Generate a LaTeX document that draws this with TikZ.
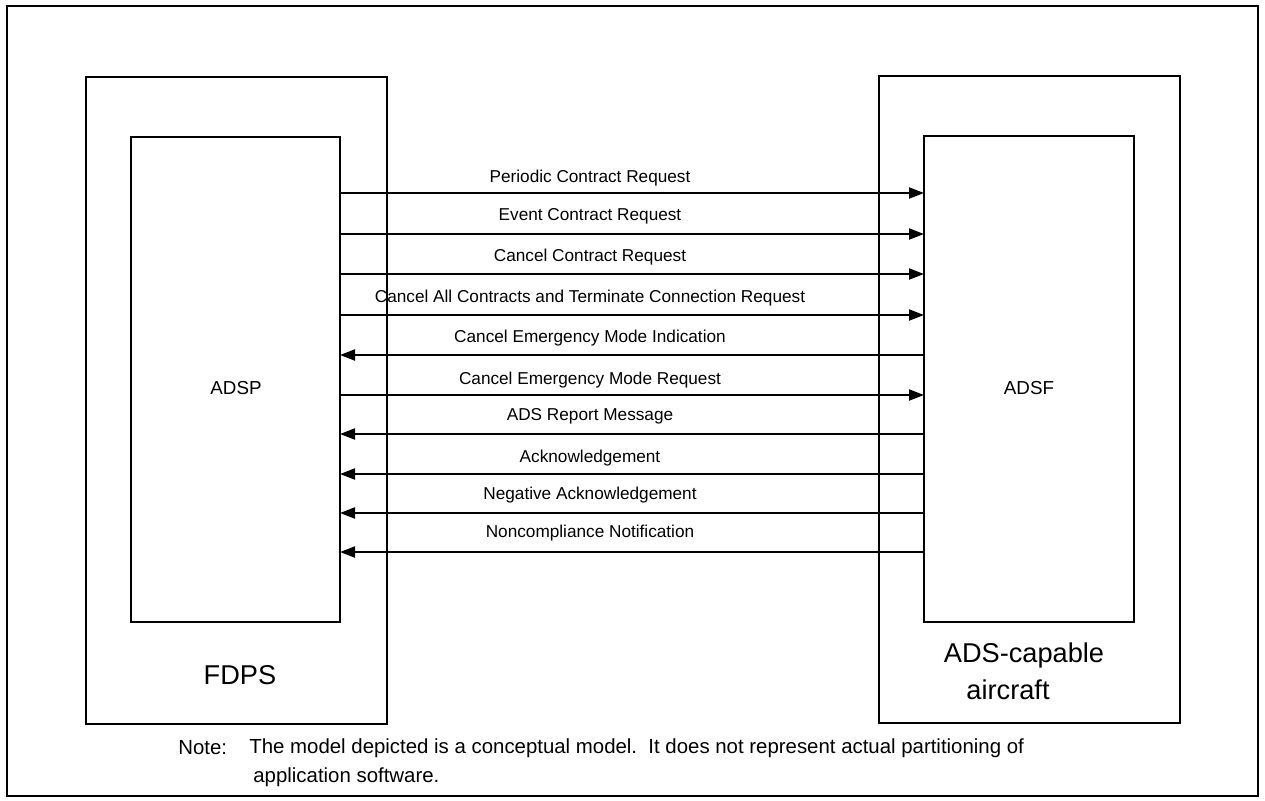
\documentclass[tikz,border=0pt]{standalone}
\usepackage{fontspec}
\setmainfont{Liberation Sans}
\usetikzlibrary{arrows.meta}
\begin{document}
\begin{tikzpicture}[x=0.5pt,y=-0.5pt,
  box/.style={draw,line width=1.2pt,inner sep=0pt,outer sep=0pt,fill=none},
  msg/.style={line width=1.05pt,-{Triangle[length=7.5pt,width=5.5pt]}},
  msglabel/.style={font=\fontsize{8.6}{10}\selectfont,inner sep=0pt},
  hostlabel/.style={font=\fontsize{13.6}{16}\selectfont,inner sep=0pt},
  unitlabel/.style={font=\fontsize{9.4}{11}\selectfont,inner sep=0pt},
  notetext/.style={font=\fontsize{10.2}{12}\selectfont,inner sep=0pt,anchor=west}]
\useasboundingbox (0,0) rectangle (1265,800);
\fill[white] (0,0) rectangle (1265,800);
% outer frame
\draw[line width=0.8pt] (7,6) rectangle (1258,796);

% host systems
\node[box,minimum width=150.5pt,minimum height=323.5pt] (fdps) at (236.5,400.5) {};
\node[box,minimum width=150.5pt,minimum height=323.5pt] (aircraft) at (1029.5,399.5) {};
% processes inside them
\node[box,minimum width=104.5pt,minimum height=242.5pt] (adsp) at (235.5,379.5) {};
\node[box,minimum width=105pt,minimum height=243pt] (adsf) at (1029,379) {};

\node[unitlabel] (adsplabel) at (236,388) {ADSP};
\node[unitlabel] (adsflabel) at (1029,388) {ADSF};
\node[hostlabel] (fdpslabel) at (240,675) {FDPS};
\node[hostlabel] (aclabel1) at (1024,655) {ADS-capable};
\node[hostlabel] (aclabel2) at (1008,690) {aircraft};

% message exchange: line y / label y / direction / text
\foreach \ly/\ty/\dir/\txt in {
  193/178/r/Periodic Contract Request,
  234/216/r/Event Contract Request,
  274/257/r/Cancel Contract Request,
  315/298/r/Cancel All Contracts and Terminate Connection Request,
  355/338/l/Cancel Emergency Mode Indication,
  395/380/r/Cancel Emergency Mode Request,
  434/416/l/ADS Report Message,
  474/458/l/Acknowledgement,
  513/495/l/Negative Acknowledgement,
  552/533/l/Noncompliance Notification}{
  \if r\dir
    \draw[msg] (adsp.east |- {(0,\ly)}) -- (adsf.west |- {(0,\ly)});
  \else
    \draw[msg] (adsf.west |- {(0,\ly)}) -- (adsp.east |- {(0,\ly)});
  \fi
  \node[msglabel] at (590,\ty) {\txt};
}

% note
\node[notetext] (notehead) at (178,748) {Note:};
\node[notetext] (note1) at (249,748) {The model depicted is a conceptual model.\ \ It does not represent actual partitioning of};
\node[notetext] (note2) at (253,777) {application software.};
\end{tikzpicture}
\end{document}
